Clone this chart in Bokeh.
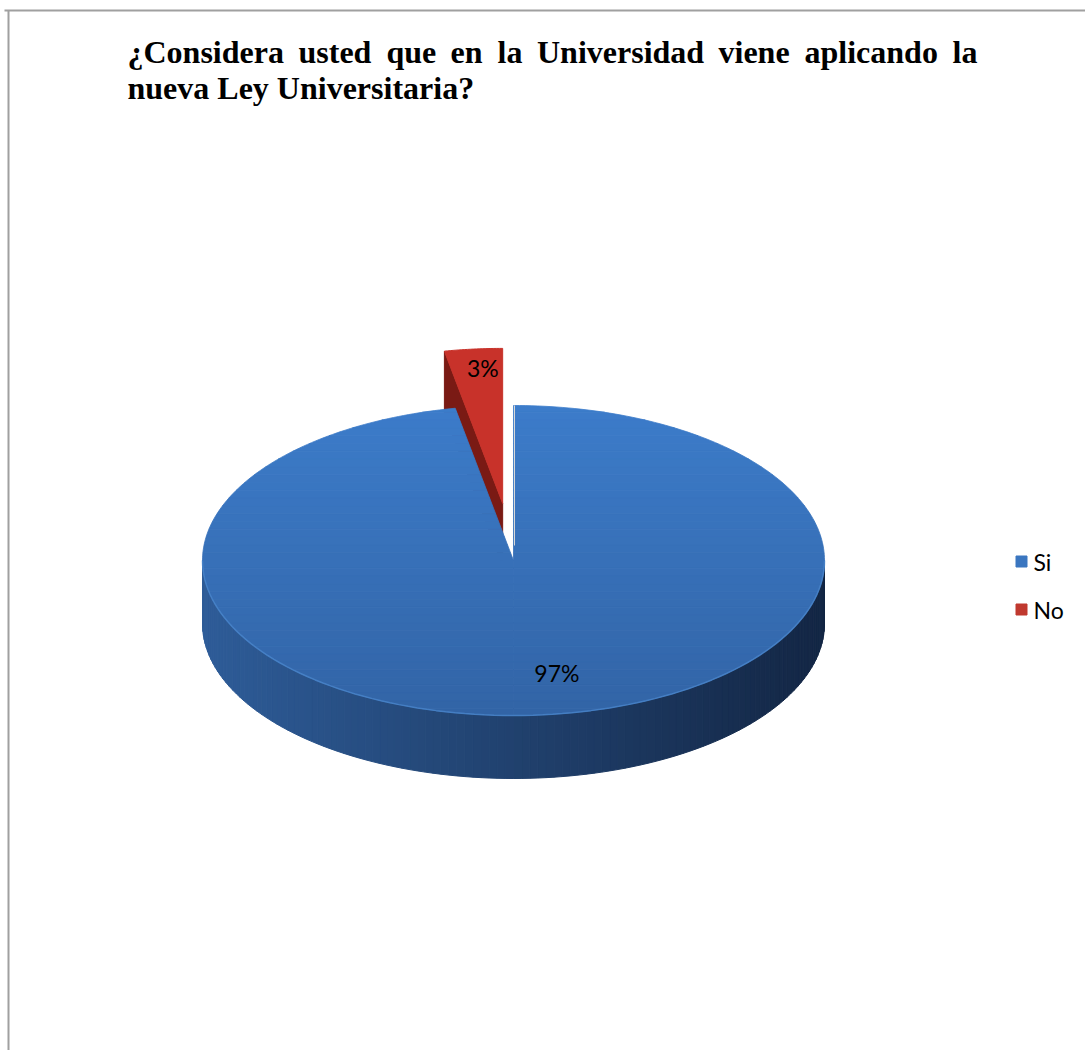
import math
from bokeh.plotting import figure
from bokeh.models import Range1d
from bokeh.core.properties import value
from bokeh.embed import file_html
from bokeh.resources import INLINE

# ---------------- data ----------------
categories = ["Si", "No"]
values = [97, 3]
pct_labels = ["97%", "3%"]
title_line1 = ["¿Considera", "usted", "que", "en", "la", "Universidad", "viene", "aplicando", "la"]
title_line2 = "nueva Ley Universitaria?"

# ---------------- layout / style ----------------
W, H = 1085, 1050
CX, CY, RX, RY, DEPTH = 513.0, 560.0, 311.0, 155.0, 63.0
EXPLODE = [0.0, 0.37]
LABEL_R = [0.73, 0.88]
LABEL_DX = [22, 6]
word_x = [127, 298, 386, 450, 497, 536.5, 718, 804, 952]

p = figure(width=W, height=H, x_range=Range1d(0, W), y_range=Range1d(H, 0),
           output_backend="svg", toolbar_location=None, min_border=0)
p.axis.visible = False
p.grid.visible = False
p.outline_line_color = None
p.background_fill_color = "white"
p.border_fill_color = "white"

# frame lines
p.line([4, W], [10, 10], line_color="#a0a0a0", line_width=2)
p.line([8, 8], [10, H], line_color="#a0a0a0", line_width=2)

# title
p.text(x=word_x, y=[51] * len(title_line1), text=title_line1,
       text_font=value("Liberation Serif"), text_font_style="bold",
       text_font_size="32px", text_baseline="alphabetic", text_align="left",
       text_color="black")
p.text(x=[127], y=[87], text=[title_line2],
       text_font=value("Liberation Serif"), text_font_style="bold",
       text_font_size="32px", text_baseline="alphabetic", text_align="left",
       text_color="black")

# ---------------- pie geometry ----------------
total = float(sum(values))
angles = []
a = 0.0
for v in values:
    a1 = a + 360.0 * v / total
    angles.append((a, a1))
    a = a1


def pt(theta, r=1.0, dx=0.0, dy=0.0):
    t = math.radians(theta)
    return (CX + r * RX * math.sin(t) + dx, CY - r * RY * math.cos(t) + dy)


def offset(i):
    a0, a1 = angles[i]
    mid = math.radians((a0 + a1) / 2)
    d = EXPLODE[i]
    return d * RX * math.sin(mid), -d * RY * math.cos(mid)


def hexc(c):
    return "#%02x%02x%02x" % tuple(int(round(x)) for x in c)


def lerp(c0, c1, t):
    return tuple(c0[k] + (c1[k] - c0[k]) * t for k in range(3))


def inter(p0, p1, yc):
    t = (yc - p0[1]) / (p1[1] - p0[1])
    return (p0[0] + (p1[0] - p0[0]) * t, yc)


def clip_half(pts, yc, keep_ge):
    out = []
    n = len(pts)
    for i in range(n):
        cur, prev = pts[i], pts[i - 1]
        cin = cur[1] >= yc if keep_ge else cur[1] <= yc
        pin = prev[1] >= yc if keep_ge else prev[1] <= yc
        if cin:
            if not pin:
                out.append(inter(prev, cur, yc))
            out.append(cur)
        elif pin:
            out.append(inter(prev, cur, yc))
    return out


# ---- Si side wall (front half) with horizontal gradient ----
a0, a1 = angles[0]
side_xs, side_ys, side_cols = [], [], []
N = 120
th_lo, th_hi = max(90.0, a0), min(270.0, a1)
for k in range(N):
    t0 = th_lo + (th_hi - th_lo) * k / N
    t1 = th_lo + (th_hi - th_lo) * (k + 1) / N
    p0, p1 = pt(t0), pt(t1)
    side_xs.append([p0[0], p1[0], p1[0], p0[0]])
    side_ys.append([p0[1], p1[1], p1[1] + DEPTH, p0[1] + DEPTH])
    xm = (p0[0] + p1[0]) / 2
    tt = (xm - (CX - RX)) / (2 * RX)
    side_cols.append(hexc(lerp((46, 92, 152), (19, 38, 68), tt)))
p.patches(side_xs, side_ys, fill_color=side_cols, line_color=side_cols, line_width=1)

# ---- No slice (exploded) ----
b0, b1 = angles[1]
odx, ody = offset(1)
apex = (CX + odx, CY + ody)
arc_start = pt(b0, 1.0, odx, ody)
cut_x = [arc_start[0], apex[0], apex[0], arc_start[0]]
cut_y = [arc_start[1], apex[1], apex[1] + DEPTH, arc_start[1] + DEPTH]
p.patch(cut_x, cut_y, fill_color="#7a1a14", line_color="#7a1a14", line_width=1)
red_arc = [pt(b0 + (b1 - b0) * k / 20, 1.0, odx, ody) for k in range(21)]
rx_ = [apex[0]] + [q[0] for q in red_arc]
ry_ = [apex[1]] + [q[1] for q in red_arc]
p.patch(rx_, ry_, fill_color="#c8322a", line_color="#c8322a", line_width=1)

# ---- Si top face, vertical gradient bands (split into convex pieces) ----
pieces = []
s = a0
while s < a1 - 1e-9:
    e = min(s + 90.0, a1)
    pieces.append([(CX, CY)] + [pt(s + (e - s) * k / 80) for k in range(81)])
    s = e
NB = 40
top_y, bot_y = CY - RY - 1, CY + RY + 1
band_xs, band_ys, band_cols = [], [], []
for k in range(NB):
    ya = top_y + (bot_y - top_y) * k / NB
    yb = top_y + (bot_y - top_y) * (k + 1) / NB
    col = hexc(lerp((60, 124, 202), (50, 100, 166), (k + 0.5) / NB))
    for sec in pieces:
        poly = clip_half(sec, ya, True)
        if len(poly) < 3:
            continue
        poly = clip_half(poly, yb, False)
        if len(poly) < 3:
            continue
        band_xs.append([q[0] for q in poly])
        band_ys.append([q[1] for q in poly])
        band_cols.append(col)
p.patches(band_xs, band_ys, fill_color=band_cols, line_color=band_cols, line_width=0.8)

# front rim highlight
rim = [pt(90 + 180 * k / 100) for k in range(101)]
p.line([q[0] for q in rim], [q[1] for q in rim], line_color="#4a86cc", line_width=1.5, line_alpha=0.8)

# faint edge of the cut at 0 degrees
e0 = pt(a0)
p.line([CX + 1, e0[0] + 1], [CY - 15, e0[1]], line_color="#d8d8d8", line_width=1)

# ---------------- labels ----------------
for i, lab in enumerate(pct_labels):
    s0, s1 = angles[i]
    mid = (s0 + s1) / 2
    dx, dy = offset(i)
    lx, ly = pt(mid, LABEL_R[i], dx + LABEL_DX[i], dy)
    p.text(x=[lx], y=[ly], text=[lab], text_font=value("Lato"),
           text_font_size="23px", text_align="center", text_baseline="middle",
           text_color="black")

# ---------------- legend ----------------
leg_colors = ["#3a76c0", "#c0392f"]
leg_y = [561, 609]
p.scatter(x=[1021] * 2, y=leg_y, marker="square", size=11,
          fill_color=leg_colors, line_color=leg_colors)
p.text(x=[1033] * 2, y=leg_y, text=categories, text_font=value("Lato"),
       text_font_size="23px", text_align="left", text_baseline="middle",
       text_color="black")

open("out.html", "w").write(file_html(p, INLINE))
